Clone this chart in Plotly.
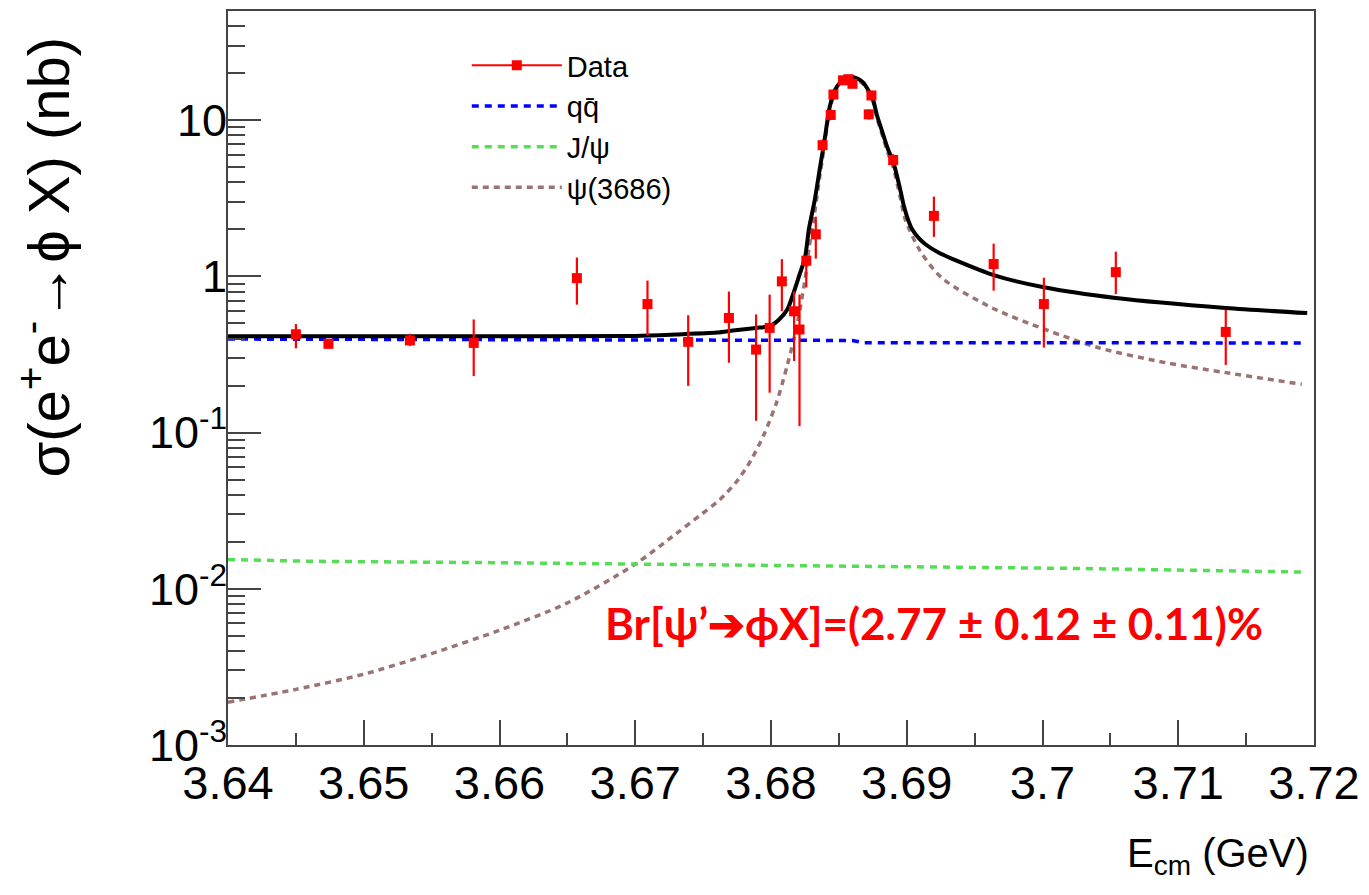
import plotly.graph_objects as go

# ---------------- data ----------------
data_E = [3.6450, 3.6474, 3.6534, 3.6581, 3.6657, 3.6709, 3.6739, 3.6769, 3.6789, 3.6799,
          3.6808, 3.6817, 3.6821, 3.6826, 3.6833, 3.6838, 3.6844, 3.6846, 3.6853, 3.6857,
          3.6860, 3.6872, 3.6874, 3.6890, 3.6920, 3.6964, 3.7001, 3.7054, 3.7135]
data_sigma = [0.426, 0.370, 0.389, 0.375, 0.975, 0.665, 0.381, 0.542, 0.340, 0.468,
              0.929, 0.598, 0.457, 1.26, 1.86, 6.92, 10.8, 14.6, 18.0, 18.3,
              17.1, 10.9, 14.4, 5.56, 2.44, 1.20, 0.665, 1.065, 0.441]
data_err_up = [0.069, 0.02, 0.04, 0.155, 0.345, 0.275, 0.183, 0.258, 0.231, 0.296,
               0.36, 0.204, 0.308, 0.10, 0.55, 0.6, 0.8, 1.0, 1.0, 1.0,
               1.0, 0.8, 1.0, 0.5, 0.80, 0.42, 0.315, 0.375, 0.17]
data_err_down = [0.080, 0.02, 0.03, 0.145, 0.316, 0.245, 0.182, 0.262, 0.221, 0.288,
                 0.33, 0.311, 0.347, 0.41, 0.56, 0.6, 0.8, 1.0, 1.0, 1.0,
                 1.0, 0.8, 1.0, 0.5, 0.65, 0.39, 0.315, 0.295, 0.17]

total_E = [3.6400, 3.6563, 3.6700, 3.6730, 3.6760, 3.6772, 3.6789, 3.6799, 3.6806, 3.6812,
           3.6817, 3.6821, 3.6825, 3.6828, 3.6832, 3.6836, 3.6840, 3.6843, 3.6847, 3.6851,
           3.6855, 3.6860, 3.6864, 3.6868, 3.6871, 3.6875, 3.6878, 3.6882, 3.6886, 3.6890,
           3.6895, 3.6898, 3.6901, 3.6904, 3.6909, 3.6914, 3.6924, 3.6934, 3.6964, 3.7001,
           3.7054, 3.7135, 3.7195]
total_sigma = [0.414, 0.414, 0.416, 0.425, 0.437, 0.450, 0.468, 0.480, 0.530, 0.613,
               0.802, 1.025, 1.31, 2.03, 3.01, 4.91, 8.02, 11.9, 15.5, 17.5,
               18.7, 18.9, 18.4, 17.4, 15.9, 13.7, 10.8, 8.42, 6.59, 5.42,
               3.66, 2.80, 2.30, 2.00, 1.75, 1.60, 1.41, 1.29, 1.02, 0.851,
               0.727, 0.628, 0.582]

qq_E = [3.6400, 3.6860, 3.6868, 3.7192]
qq_sigma = [0.397, 0.389, 0.376, 0.375]

jpsi_E = [3.6400, 3.6460, 3.6595, 3.6732, 3.6880, 3.7025, 3.7192]
jpsi_sigma = [0.0154, 0.0150, 0.0147, 0.0143, 0.0140, 0.0135, 0.0128]

psip_E = [3.6400, 3.6450, 3.6500, 3.6550, 3.6600, 3.6649, 3.6699, 3.6730, 3.6747, 3.6762,
          3.6775, 3.6785, 3.6795, 3.6804, 3.6812, 3.6819, 3.6825, 3.6828, 3.6832, 3.6836,
          3.6840, 3.6843, 3.6847, 3.6851, 3.6855, 3.6860, 3.6864, 3.6868, 3.6871, 3.6875,
          3.6878, 3.6882, 3.6886, 3.6890, 3.6895, 3.6899, 3.6910, 3.6926, 3.6963, 3.7002,
          3.7042, 3.7091, 3.7135, 3.7191]
psip_sigma = [0.00188, 0.00227, 0.00284, 0.00385, 0.00543, 0.00804, 0.0142, 0.0225, 0.0292, 0.0370,
              0.0490, 0.066, 0.098, 0.155, 0.270, 0.48, 0.95, 1.5, 2.5, 4.4,
              7.5, 11.4, 15.0, 17.1, 18.3, 18.5, 18.0, 17.0, 15.5, 13.3,
              10.4, 8.0, 6.2, 5.0, 3.26, 2.3, 1.45, 0.975, 0.628, 0.457,
              0.348, 0.280, 0.242, 0.204]

x_tickvals = [3.64, 3.65, 3.66, 3.67, 3.68, 3.69, 3.70, 3.71, 3.72]
x_ticktext = ["3.64", "3.65", "3.66", "3.67", "3.68", "3.69", "3.7", "3.71", "3.72"]
y_tickvals = [0.001, 0.01, 0.1, 1, 10]
y_ticktext = ["10<sup>-3</sup>", "10<sup>-2</sup>", "10<sup>-1</sup>", "1", "10"]
y_minor = [m * 10 ** e for e in range(-3, 2) for m in range(2, 10) if m * 10 ** e <= 50]

FONT = "Liberation Sans, Arial, sans-serif"
FRAME = "#444444"

fig = go.Figure()

fig.add_trace(go.Scatter(x=psip_E, y=psip_sigma, mode="lines", name="ψ(3686)",
                         line=dict(color="#9a7474", width=3.5, dash="6px,5px", shape="spline", smoothing=0.8),
                         legendrank=4))
fig.add_trace(go.Scatter(x=jpsi_E, y=jpsi_sigma, mode="lines", name="J/ψ",
                         line=dict(color="#55dd55", width=3.5, dash="7px,6px"), legendrank=3))
fig.add_trace(go.Scatter(x=qq_E, y=qq_sigma, mode="lines", name="qq\u0304",
                         line=dict(color="#0000ff", width=3.5, dash="7px,6px"), legendrank=2))
fig.add_trace(go.Scatter(x=total_E, y=total_sigma, mode="lines", name="Total", showlegend=False,
                         line=dict(color="black", width=4, shape="spline", smoothing=0.7)))
fig.add_trace(go.Scatter(x=data_E, y=data_sigma, mode="markers", name="Data", showlegend=False,
                         legendgroup="data",
                         marker=dict(symbol="square", size=10, color="#ff0000"),
                         error_y=dict(type="data", symmetric=False, array=data_err_up,
                                      arrayminus=data_err_down, color="#ff0000",
                                      thickness=2.2, width=0)))
fig.add_trace(go.Scatter(x=[None], y=[None], mode="lines+markers", name="Data", legendgroup="data",
                         marker=dict(symbol="square", size=10, color="#ff0000"),
                         line=dict(color="#ff0000", width=2), legendrank=1))

# minor y ticks on an overlay axis
fig.add_trace(go.Scatter(x=[None], y=[None], yaxis="y2", showlegend=False, hoverinfo="skip"))

fig.update_layout(
    width=1369, height=895,
    margin=dict(l=228, r=54, t=9, b=150),
    paper_bgcolor="white", plot_bgcolor="white",
    font=dict(family=FONT, color="black"),
    showlegend=True,
    legend=dict(x=(467 - 228) / 1087, y=(745 - 38) / 736, xanchor="left", yanchor="top",
                bgcolor="rgba(0,0,0,0)", borderwidth=0, itemwidth=90,
                font=dict(family=FONT, size=29, color="black"),
                tracegroupgap=0),
    xaxis=dict(range=[3.64, 3.72], tickvals=x_tickvals, ticktext=x_ticktext,
               ticks="inside", ticklen=25, tickwidth=2, tickcolor=FRAME,
               showline=True, linecolor=FRAME, linewidth=2, mirror=True,
               showgrid=False, zeroline=False, ticklabelstandoff=-4,
               tickfont=dict(size=47, family=FONT),
               minor=dict(ticks="inside", ticklen=12, tickwidth=2, tickcolor=FRAME,
                          tick0=3.64, dtick=0.005, showgrid=False)),
    yaxis=dict(type="log", range=[-3, 1.69897], tickvals=y_tickvals, ticktext=y_ticktext,
               ticks="inside", ticklen=33, tickwidth=2, tickcolor=FRAME,
               showline=True, linecolor=FRAME, linewidth=2, mirror=True,
               showgrid=False, zeroline=False, ticklabelstandoff=-10,
               tickfont=dict(size=45, family=FONT)),
    yaxis2=dict(type="log", range=[-3, 1.69897], overlaying="y", side="left",
                tickvals=y_minor, ticks="inside", ticklen=17, tickwidth=2, tickcolor=FRAME,
                showticklabels=False, showgrid=False, showline=False, zeroline=False),
)

fig.add_annotation(xref="paper", yref="paper", x=(44 - 228) / 1087, y=(745 - 33) / 736,
                   xanchor="center", yanchor="top",
                   text="σ(e<sup>+</sup>e<sup>-</sup>→ϕ X) (nb)", textangle=-90, showarrow=False,
                   font=dict(size=58, family=FONT, color="black"))
fig.add_annotation(xref="paper", yref="paper", x=(1312 - 228) / 1087, y=(745 - 856) / 736,
                   xanchor="right", yanchor="middle",
                   text="E<sub>cm</sub> (GeV)", showarrow=False,
                   font=dict(size=40, family=FONT, color="black"))
fig.add_annotation(xref="paper", yref="paper", x=(603 - 228) / 1087, y=(745 - 623) / 736,
                   xanchor="left", yanchor="middle",
                   text="<b>Br[ψ’➔ϕX]=(2.77 ± 0.12 ± 0.11)%</b>", showarrow=False,
                   font=dict(size=44, family="Lato, Open Sans, sans-serif", color="#ff0000"))

fig.write_html("out.html")
